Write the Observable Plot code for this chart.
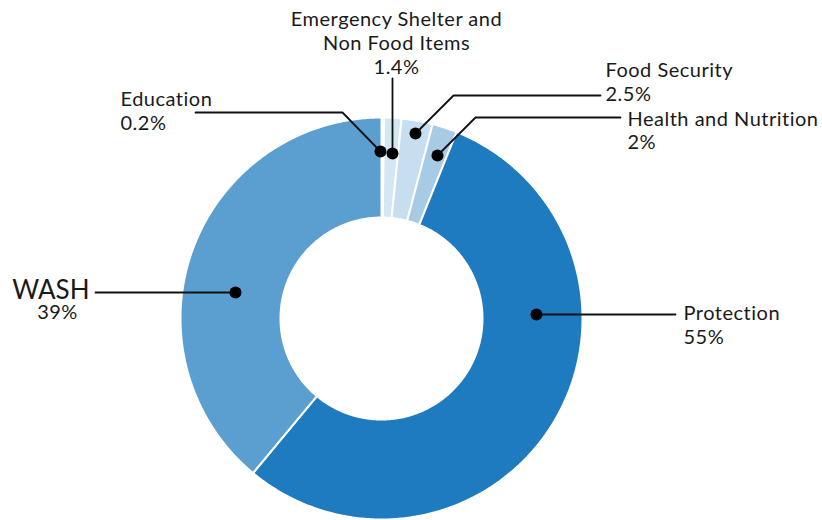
<!DOCTYPE html>
<html>
<head>
<meta charset="utf-8">
<script src="https://cdn.jsdelivr.net/npm/d3@7"></script>
<script src="https://cdn.jsdelivr.net/npm/@observablehq/plot@0.6"></script>
<style>
  html, body { margin: 0; padding: 0; background: #ffffff; }
  #chart svg { display: block; }
  #chart svg g[font-size="20"] text { letter-spacing: 0.5px; }
</style>
</head>
<body>
<div id="chart"></div>
<script>
// ---- data ----
const categories = ["Education", "Emergency Shelter and Non Food Items", "Food Security", "Health and Nutrition", "Protection", "WASH"];
const shares = [0.2, 1.4, 2.5, 2, 55, 39];
const shareLabels = ["0.2%", "1.4%", "2.5%", "2%", "55%", "39%"];
const colors = ["#e4eef8", "#d6e7f4", "#c6def0", "#a7cbe5", "#1f7bbf", "#5a9fd0"];

// ---- layout (pixels) ----
const W = 822, H = 520;
const cx = 381, cy = 318, rOuter = 201, rInner = 101;
// leader lines: dot first, then path to the label
const leaders = [
  [[380, 151], [342, 112], [195, 112]],
  [[392, 153], [392, 78]],
  [[415, 133], [453, 95], [600, 95]],
  [[437, 155], [475, 117], [620, 117]],
  [[536, 314], [675, 314]],
  [[235, 292], [95, 292]]
];
// label text lines: [x, baseline y, anchor, size, text]
const labelLines = [
  [120, 105, "start", 20, "Education"],
  [120, 129, "start", 20, shareLabels[0]],
  [396, 25, "middle", 20, "Emergency Shelter and"],
  [396, 49, "middle", 20, "Non Food Items"],
  [396, 73, "middle", 20, shareLabels[1]],
  [605, 76, "start", 20, "Food Security"],
  [605, 100, "start", 20, shareLabels[2]],
  [627, 125, "start", 20, "Health and Nutrition"],
  [627, 148, "start", 20, shareLabels[3]],
  [683, 319, "start", 20, "Protection"],
  [683, 343, "start", 20, shareLabels[4]],
  [89, 298, "end", 26, "WASH"],
  [57, 318, "middle", 20, shareLabels[5]]
];

// ---- build slice polygons from the data ----
const total = d3.sum(shares);
const polys = [];
let acc = 0;
categories.forEach((c, i) => {
  const a0 = acc / total * 2 * Math.PI;
  acc += shares[i];
  const a1 = acc / total * 2 * Math.PI;
  const n = Math.max(4, Math.ceil((a1 - a0) / 0.01));
  for (let k = 0; k <= n; k++) {
    const a = a0 + (a1 - a0) * k / n;
    polys.push({cat: c, x: cx + rOuter * Math.sin(a), y: cy - rOuter * Math.cos(a)});
  }
  for (let k = n; k >= 0; k--) {
    const a = a0 + (a1 - a0) * k / n;
    polys.push({cat: c, x: cx + rInner * Math.sin(a), y: cy - rInner * Math.cos(a)});
  }
});

const leaderPts = leaders.flatMap((pts, i) => pts.map(p => ({cat: categories[i], x: p[0], y: p[1]})));
const dots = leaders.map((pts, i) => ({cat: categories[i], x: pts[0][0], y: pts[0][1]}));
const texts = labelLines.map(l => ({x: l[0], y: l[1], anchor: l[2], size: l[3], text: l[4]}));

const font = "Lato, 'Noto Sans', sans-serif";

const textMarks = ["start", "middle", "end"].flatMap(anchor =>
  [20, 26].map(size => Plot.text(texts.filter(t => t.anchor === anchor && t.size === size), {
    x: "x", y: "y", text: "text", textAnchor: anchor, lineAnchor: "bottom",
    fontSize: size, fill: "#1a1a1a", fontFamily: font
  }))
);

const chart = Plot.plot({
  width: W, height: H,
  margin: 0,
  style: {fontFamily: font, background: "#ffffff"},
  x: {domain: [0, W], range: [0, W], axis: null},
  y: {domain: [0, H], range: [0, H], axis: null},
  color: {domain: categories, range: colors},
  marks: [
    Plot.line(polys, {x: "x", y: "y", z: "cat", fill: "cat", stroke: "#ffffff", strokeWidth: 2, curve: "linear-closed"}),
    Plot.line(leaderPts, {x: "x", y: "y", z: "cat", stroke: "#111111", strokeWidth: 1.8}),
    Plot.dot(dots, {x: "x", y: "y", r: 6, fill: "#000000", stroke: null}),
    ...textMarks
  ]
});
document.getElementById("chart").appendChild(chart);
</script>
</body>
</html>
